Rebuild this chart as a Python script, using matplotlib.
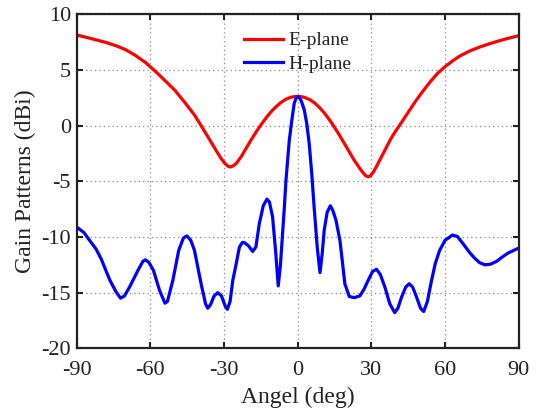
import matplotlib
matplotlib.use("Agg")
import matplotlib.pyplot as plt

# E-plane gain pattern (angle in deg, gain in dBi)
e_angle = [-90, -86, -82, -78, -74, -70, -66, -62, -58, -54, -50, -46, -42, -39, -36, -33, -31,
           -29.5, -28.3, -27.3, -26.3, -25, -23, -21, -19, -17, -15, -13, -11, -9, -7, -5, -3,
           -1.5, 0, 1.5, 3, 5, 7, 9, 11, 13, 15, 17, 19, 21, 23, 25, 26.5, 27.7, 28.7, 29.7,
           31, 32.5, 34, 36, 38, 40, 42, 45, 48, 51, 54, 57, 60, 63, 66, 70, 74, 78, 82, 86, 90]
e_gain = [8.14, 7.93, 7.7, 7.47, 7.18, 6.82, 6.3, 5.68, 4.9, 4.05, 3.18, 2.1, 0.95, -0.1, -1.2, -2.3, -3.0,
          -3.42, -3.65, -3.72, -3.62, -3.4, -2.8, -2.05, -1.3, -0.6, 0.05, 0.65, 1.2, 1.65, 2.05, 2.35, 2.53,
          2.6, 2.62, 2.6, 2.52, 2.33, 2.02, 1.6, 1.1, 0.5, -0.15, -0.85, -1.6, -2.35, -3.1, -3.75, -4.2, -4.5, -4.6, -4.5,
          -4.1, -3.5, -2.85, -2.0, -1.15, -0.45, 0.2, 1.2, 2.2, 3.1, 3.95, 4.7, 5.3, 5.8, 6.25, 6.7, 7.05, 7.35, 7.62, 7.86, 8.08]

# H-plane gain pattern
h_angle = [-90, -87, -84.7, -82, -79.9, -76.5, -74, -72.1, -70.5, -68.4, -65, -63, -62, -60.5,
           -58.7, -56.2, -54, -53, -50.8, -48.4, -46.5, -45.1, -43.5, -42, -39.3, -37.5, -36.6,
           -35.5, -34, -32.5, -31, -29.5, -28.6, -27.5, -26.4, -25, -23.7, -22.5, -21.7, -20,
           -18.3, -17, -15.6, -14, -12.5, -11.5, -10.2, -9, -7.9, -7, -5.4, -4.75, -3.4, -2.3, -1.4, -0.6,
           0, 0.6, 1.5, 2.7, 3.7, 4.7, 5.7, 6.7, 8, 9.1, 10, 10.8, 12, 13.3, 14.3, 15.6, 17.2, 18.3, 19.2, 21,
           23, 25.3, 27, 28.7, 30.5, 32.1, 33.7, 35.5, 37.5, 39.5, 40.8, 42.3, 44, 45.4, 46.8,
           48.4, 50, 51.3, 52.8, 54.5, 56, 57.8, 60, 63, 65, 67.3, 70, 72, 74, 76.1, 78.5,
           80.9, 83, 85.6, 88, 90]
h_gain = [-9.1, -9.6, -10.3, -11.1, -12.0, -13.85, -14.9, -15.5, -15.3, -14.5, -13.0, -12.2, -12.05, -12.3,
          -13.0, -14.8, -15.95, -15.8, -13.9, -11.2, -10.1, -9.9, -10.3, -11.2, -14.2, -16.0, -16.4,
          -16.1, -15.3, -15.0, -15.3, -16.2, -16.5, -15.8, -13.9, -12.4, -10.9, -10.5, -10.5, -10.8,
          -11.3, -10.9, -8.8, -7.2, -6.6, -6.85, -8.2, -11.2, -14.4, -12.5, -7.3, -4.9, -1.3, 0.6, 2.0, 2.5,
          2.6, 2.55, 2.2, 1.4, 0.2, -1.6, -4.2, -7.3, -11.0, -13.2, -11.5, -9.4, -7.8, -7.2, -7.6, -8.5, -10.3, -12.4, -14.2, -15.35,
          -15.45, -15.3, -14.7, -13.9, -13.1, -12.9, -13.4, -14.5, -16.0, -16.8, -16.4, -15.4, -14.5, -14.2, -14.5,
          -15.4, -16.4, -16.7, -15.8, -13.9, -12.4, -11.2, -10.3, -9.83, -9.95, -10.6, -11.4, -11.9, -12.3, -12.5, -12.45,
          -12.2, -11.85, -11.45, -11.2, -11.0]

x_ticks = [-90, -60, -30, 0, 30, 60, 90]
y_ticks = [-20, -15, -10, -5, 0, 5, 10]

plt.rcParams['font.family'] = ['Liberation Serif', 'DejaVu Serif']

fig = plt.figure(figsize=(5.4, 4.13), dpi=100)
ax = fig.add_axes([0.1417, 0.1567, 0.8190, 0.8087])

ax.plot(e_angle, e_gain, color='#ff0000', lw=2.3, label='E-plane')
ax.plot(h_angle, h_gain, color='#0000ff', lw=2.3, label='H-plane')

ax.set_xlim(-90, 90)
ax.set_ylim(-20, 10)
ax.set_xticks(x_ticks)
ax.set_yticks(y_ticks)
ax.set_xticklabels([str(t) for t in x_ticks])
ax.set_yticklabels([str(t) for t in y_ticks])
ax.tick_params(direction='in', top=True, right=True, length=4, width=1.5,
               labelsize=16, colors='#222222', labelcolor='#222222')
ax.tick_params(axis='x', pad=9)
ax.tick_params(axis='y', pad=4)
ax.grid(True, linestyle=(0, (1, 2.5)), color='#888888', lw=0.9)
for s in ax.spines.values():
    s.set_linewidth(1.6)
    s.set_color('#222222')

ax.set_xlabel('Angel (deg)', fontsize=17, color='#222222', labelpad=5)
ax.set_ylabel('Gain Patterns (dBi)', fontsize=17, color='#222222', labelpad=4)

leg = ax.legend(loc='upper center', frameon=False, fontsize=14,
                handlelength=2.0, handletextpad=0.25, labelspacing=0.3,
                borderaxespad=0.5)
for t in leg.get_texts():
    t.set_color('#222222')

fig.savefig('out.png', dpi=100)
